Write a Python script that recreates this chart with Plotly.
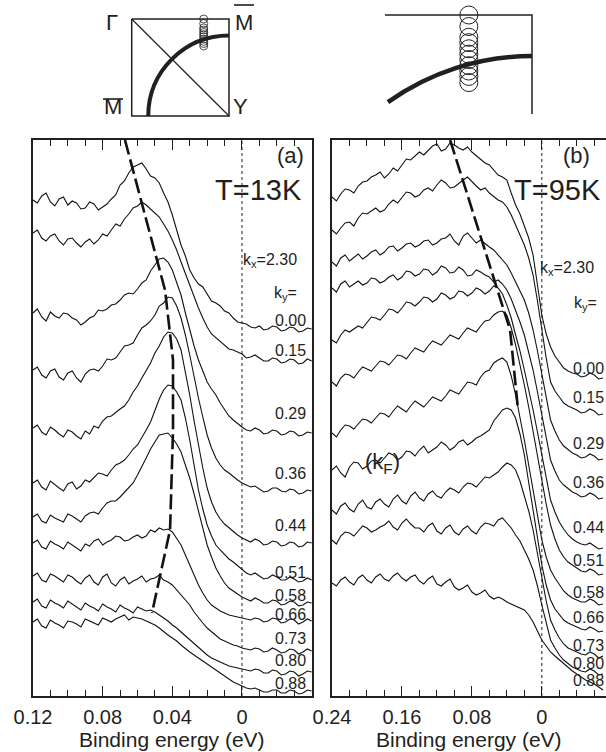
import math
import plotly.graph_objects as go

# ---------------- data ----------------
energy_a = [0.12, 0.1175, 0.115, 0.1125, 0.11, 0.1075, 0.105, 0.1025, 0.1, 0.0975, 0.095,
            0.0925, 0.09, 0.0875, 0.085, 0.0825, 0.08, 0.0775, 0.075, 0.0725, 0.07, 0.0675,
            0.065, 0.0625, 0.06, 0.0575, 0.055, 0.0525, 0.05, 0.0475, 0.045, 0.0425, 0.04,
            0.0375, 0.035, 0.0325, 0.03, 0.0275, 0.025, 0.0225, 0.02, 0.0175, 0.015, 0.0125,
            0.01, 0.0075, 0.005, 0.0025, 0.0, -0.0025, -0.005, -0.0075, -0.01, -0.0125,
            -0.015, -0.0175, -0.02, -0.0225, -0.025, -0.0275, -0.03, -0.0325, -0.035,
            -0.0375, -0.04]
energy_b = [0.24, 0.235, 0.23, 0.225, 0.22, 0.215, 0.21, 0.205, 0.2, 0.195, 0.19, 0.185,
            0.18, 0.175, 0.17, 0.165, 0.16, 0.155, 0.15, 0.145, 0.14, 0.135, 0.13, 0.125,
            0.12, 0.115, 0.11, 0.105, 0.1, 0.095, 0.09, 0.085, 0.08, 0.075, 0.07, 0.065,
            0.06, 0.055, 0.05, 0.045, 0.04, 0.035, 0.03, 0.025, 0.02, 0.015, 0.01, 0.005,
            0.0, -0.005, -0.01, -0.015, -0.02, -0.025, -0.03, -0.035, -0.04, -0.045, -0.05,
            -0.055, -0.06, -0.065, -0.07]

ky_values = [0.00, 0.15, 0.29, 0.36, 0.44, 0.51, 0.58, 0.66, 0.73, 0.80, 0.88]
ky_labels = ["0.00", "0.15", "0.29", "0.36", "0.44", "0.51", "0.58", "0.66", "0.73", "0.80", "0.88"]

# stacked EDC intensities (arb. units), T = 13 K
edc_a_000 = [496,493,500,503,494,490,497,499,491,495,493,487,488,494,492,486,489,492,497,501,
             511,515,523,529,531,533,527,520,518,513,503,494,481,465,451,440,426,418,412,409,
             402,395,393,390,385,383,378,374,373,372,369,368,370,366,367,370,369,365,366,369,
             368,364,365,368,367]
edc_a_015 = [463,466,458,455,460,462,455,451,457,458,453,449,454,457,452,456,462,460,466,472,
             470,477,482,488,490,494,491,487,484,479,472,465,456,446,434,422,411,399,388,378,
             369,362,358,355,351,347,346,344,342,338,339,341,338,335,335,338,337,333,334,337,
             336,332,333,337,335]
edc_a_029 = [383,387,379,375,384,380,378,383,382,378,376,371,374,378,380,386,385,387,391,392,
             396,401,403,402,407,413,416,425,431,437,438,434,426,414,401,383,366,350,336,324,
             314,307,301,293,286,280,276,272,269,266,265,268,266,262,263,266,265,261,262,265,
             264,260,261,264,263]
edc_a_036 = [326,329,321,318,325,327,319,316,323,325,318,314,322,326,327,325,330,337,336,338,
             344,350,351,353,361,368,371,375,381,390,393,399,398,390,378,361,341,319,298,279,
             261,248,238,231,226,223,219,216,213,211,209,210,207,204,205,208,208,205,204,207,
             206,202,203,206,205]
edc_a_044 = [268,271,264,261,269,266,262,259,266,264,260,257,265,262,270,268,275,279,280,284,
             287,290,296,304,310,318,326,333,343,350,359,364,363,357,346,325,301,275,251,228,
             208,194,184,177,172,168,165,161,158,156,154,157,155,151,152,155,154,150,151,154,
             153,149,150,154,153]
edc_a_051 = [213,216,209,206,215,211,208,205,212,214,207,210,216,214,219,223,222,220,226,231,
             233,236,241,247,251,258,266,274,286,297,306,311,310,304,296,278,256,230,206,187,
             171,160,151,146,141,137,134,130,126,123,121,123,120,117,118,121,119,116,116,119,
             117,114,115,118,116]
edc_a_058 = [179,182,175,173,181,178,176,174,182,180,177,174,180,183,184,182,188,193,195,195,
             199,204,208,213,221,229,238,247,254,261,262,263,258,252,244,232,218,202,184,167,
             151,139,128,120,113,108,105,102,99,97,95,98,96,93,93,96,95,91,92,95,
             94,90,91,94,93]
edc_a_066 = [153,156,149,147,155,152,150,147,154,151,148,145,152,150,155,157,151,154,156,160,
             159,155,156,159,161,158,160,166,164,168,166,167,164,158,151,141,131,121,111,103,
             96,91,88,85,83,81,80,79,78,77,76,78,77,74,75,78,77,73,74,77,
             76,72,74,77,75]
edc_a_073 = [120,123,116,114,122,120,117,114,121,119,115,112,118,121,114,111,119,122,113,110,
             116,119,112,115,117,120,114,117,118,121,116,114,111,106,101,96,91,84,78,73,
             68,64,60,57,55,53,51,50,48,47,46,48,47,44,45,48,46,43,44,47,
             46,42,44,47,45]
edc_a_080 = [94,97,90,88,96,93,91,88,95,92,89,86,93,90,88,85,92,89,87,84,
             91,88,86,83,89,87,85,86,84,81,78,75,71,68,64,60,56,52,48,44,
             41,38,36,34,32,30,29,28,27,26,25,27,26,23,23,26,25,21,22,25,
             24,20,22,25,24]
edc_a_088 = [74,77,70,68,76,73,71,68,75,74,72,69,77,75,73,71,78,76,74,77,
             79,81,76,79,78,77,75,73,71,68,64,61,58,55,51,47,44,41,38,35,
             32,29,26,23,20,17,14,12,10,8,7,8,6,4,4,6,6,3,3,6,
             5,2,3,6,5]

# stacked EDC intensities (arb. units), T = 95 K
edc_b_000 = [499,495,502,507,506,503,510,514,515,519,521,524,518,522,528,525,531,537,536,540,
             544,541,546,550,552,545,547,553,551,548,546,549,544,540,536,533,531,526,521,519,
             516,503,491,482,471,458,441,412,381,362,349,340,334,328,325,323,322,319,320,323,
             321,317,318]
edc_b_015 = [466,462,468,473,474,470,478,483,482,485,488,484,486,492,496,493,498,504,503,499,
             501,506,508,505,511,516,513,508,509,513,516,519,514,510,506,508,503,499,496,494,
             489,481,471,462,451,438,421,395,366,338,314,305,299,293,290,288,286,283,284,287,
             285,281,282]
edc_b_029 = [434,430,438,441,435,439,442,437,440,444,446,441,444,449,450,445,448,452,453,449,
             451,455,456,451,453,457,458,462,455,451,460,463,458,453,456,452,449,446,441,437,
             431,423,414,406,396,383,366,345,321,298,276,265,256,250,246,243,241,238,239,242,
             240,236,237]
edc_b_036 = [408,404,412,415,409,412,415,411,413,418,417,413,415,419,421,416,419,425,424,420,
             422,427,426,421,424,430,428,423,424,429,426,420,421,426,424,421,419,414,416,412,
             406,397,386,374,361,344,326,304,281,258,236,225,216,211,207,204,202,199,200,203,
             201,197,198]
edc_b_044 = [356,353,361,366,364,367,370,368,374,379,378,376,381,387,386,383,388,394,393,390,
             394,399,398,394,397,403,401,397,399,405,404,400,403,408,406,402,405,410,408,402,
             391,378,361,345,326,307,286,264,241,218,196,184,174,167,161,157,154,152,151,153,
             150,147,148]
edc_b_051 = [314,310,318,322,321,318,324,329,327,325,330,335,334,331,336,341,340,337,343,348,
             346,344,350,355,353,351,356,361,359,357,363,368,366,364,370,375,376,381,384,385,
             381,368,351,332,311,289,266,241,216,192,171,157,146,139,134,131,128,125,124,127,
             125,121,122]
edc_b_058 = [263,259,266,271,270,267,272,277,276,273,278,283,282,279,285,290,287,284,290,295,
             292,289,294,299,297,295,300,306,304,302,308,314,313,311,319,324,326,333,336,338,
             334,320,301,280,256,231,206,180,156,139,126,118,111,105,101,98,96,94,94,97,
             95,91,92]
edc_b_066 = [226,230,223,219,229,234,233,227,230,235,236,233,238,243,241,236,239,245,244,240,
             246,250,243,246,249,254,251,246,249,254,256,251,254,258,260,263,266,275,281,286,
             288,286,278,262,241,214,186,158,131,111,96,87,81,76,73,71,69,67,66,69,
             67,64,65]
edc_b_073 = [186,182,190,193,187,184,192,196,189,187,194,197,192,189,197,201,195,192,200,204,
             198,195,202,205,200,198,204,208,206,203,209,213,212,209,214,219,218,221,224,229,
             233,231,226,215,201,185,166,141,116,95,76,66,58,52,48,46,44,42,41,44,
             42,38,40]
edc_b_080 = [156,152,160,164,163,160,165,170,168,164,166,169,171,175,169,166,173,177,172,168,
             168,164,170,173,165,162,168,171,164,161,167,170,165,162,169,173,172,170,176,178,
             173,168,161,155,146,137,126,110,91,73,56,48,41,36,32,29,27,25,24,27,
             25,21,22]
edc_b_088 = [113,110,116,119,114,111,118,121,116,113,119,122,117,115,120,123,118,115,119,121,
             115,112,117,120,112,110,114,117,109,106,108,111,104,101,103,106,100,97,99,97,
             94,92,90,88,86,81,74,65,56,50,44,40,36,32,29,25,22,19,16,14,
             12,9,6]

# peak-position guide lines (energy, stacked intensity)
peak_a_energy = [0.0672, 0.0442, 0.0396, 0.0396, 0.0413, 0.0453, 0.0517]
peak_a_level = [556, 406, 336, 266, 166, 133, 83]
peak_b_energy = [0.1049, 0.0363, 0.0272]
peak_b_level = [556, 366, 286]

# Brillouin-zone sketch (unit square: Gamma top-left, Y bottom-right)
bz_x = [0, 1, 1, 0, 0]
bz_y = [1, 1, 0, 0, 1]
diag_x = [0, 1]
diag_y = [1, 0]
cut_kx = 0.74          # position of the measured cut
ky_to_bz = 0.316       # ky -> sketch units

curves_a = [edc_a_000, edc_a_015, edc_a_029, edc_a_036, edc_a_044, edc_a_051,
            edc_a_058, edc_a_066, edc_a_073, edc_a_080, edc_a_088]
curves_b = [edc_b_000, edc_b_015, edc_b_029, edc_b_036, edc_b_044, edc_b_051,
            edc_b_058, edc_b_066, edc_b_073, edc_b_080, edc_b_088]

# label placement (layout)
label_y_a = [376, 346, 283, 223, 171, 124, 101, 82, 58, 36, 13]
label_y_b = [328, 299, 253, 214, 169, 136, 104, 79, 51, 33, 16]

INK = "#231f20"
FONT = "Liberation Sans, Arial, sans-serif"

W, H = 606, 752
def px_x(p):
    return p / W
def px_y(p):
    return (H - p) / H

fig = go.Figure()

for vals in curves_a:
    fig.add_trace(go.Scatter(x=energy_a, y=vals, mode="lines", xaxis="x", yaxis="y",
                             line=dict(color="#111111", width=1.1), hoverinfo="skip"))
for vals in curves_b:
    fig.add_trace(go.Scatter(x=energy_b, y=vals, mode="lines", xaxis="x2", yaxis="y2",
                             line=dict(color="#111111", width=1.1), hoverinfo="skip"))

fig.add_trace(go.Scatter(x=peak_a_energy, y=peak_a_level, mode="lines", xaxis="x", yaxis="y",
                         line=dict(color="#111111", width=2.6, dash="15px,5px"), hoverinfo="skip"))
fig.add_trace(go.Scatter(x=peak_b_energy, y=peak_b_level, mode="lines", xaxis="x2", yaxis="y2",
                         line=dict(color="#111111", width=2.6, dash="15px,5px"), hoverinfo="skip"))

# Brillouin-zone sketches
for xa, ya in (("x3", "y3"), ("x4", "y4")):
    fig.add_trace(go.Scatter(x=bz_x, y=bz_y, mode="lines", xaxis=xa, yaxis=ya,
                             line=dict(color=INK, width=1.5), hoverinfo="skip"))
fig.add_trace(go.Scatter(x=diag_x, y=diag_y, mode="lines", xaxis="x3", yaxis="y3",
                         line=dict(color=INK, width=1.2), hoverinfo="skip"))
cut_y = [1 - ky_to_bz * k for k in ky_values]
fig.add_trace(go.Scatter(x=[cut_kx] * len(ky_values), y=cut_y, mode="markers", xaxis="x3", yaxis="y3",
                         marker=dict(symbol="circle-open", size=8, color=INK, line=dict(width=0.8)),
                         cliponaxis=False, hoverinfo="skip"))
fig.add_trace(go.Scatter(x=[cut_kx] * len(ky_values), y=cut_y, mode="markers", xaxis="x4", yaxis="y4",
                         marker=dict(symbol="circle-open", size=18, color=INK, line=dict(width=1)),
                         cliponaxis=False, hoverinfo="skip"))

# Fermi-surface arcs (sketch)
r1, kb = 0.83, 0.5523
path1 = (f"M {1-r1},0 C {1-r1},{kb*r1} {1-kb*r1},{r1} 1,{r1}")
cx, cy, R = 1.0, -0.191, 1.022
xs = 0.407
th = math.asin((cx - xs) / R)
ys = cy + R * math.cos(th)
hk = 4 / 3 * math.tan(th / 4) * R
path2 = (f"M {xs},{ys} C {xs + hk*math.cos(th)},{ys + hk*math.sin(th)} "
         f"{cx - hk},{cy + R} {cx},{cy + R}")

shapes = [
    dict(type="path", path=path1, xref="x3", yref="y3", line=dict(color=INK, width=4)),
    dict(type="path", path=path2, xref="x4", yref="y4", line=dict(color=INK, width=4.5)),
    # Fermi level markers
    dict(type="line", x0=0, x1=0, xref="x", y0=0, y1=1, yref="y domain",
         line=dict(color=INK, width=1, dash="dot")),
    dict(type="line", x0=0, x1=0, xref="x2", y0=0, y1=1, yref="y2 domain",
         line=dict(color=INK, width=1, dash="dot")),
    # overbars on M
    dict(type="line", xref="paper", yref="paper", x0=px_x(234), x1=px_x(254), y0=px_y(5), y1=px_y(5),
         line=dict(color=INK, width=1.6)),
    dict(type="line", xref="paper", yref="paper", x0=px_x(103), x1=px_x(123), y0=px_y(99), y1=px_y(99),
         line=dict(color=INK, width=1.6)),
]

ann = []
def text(x, y, s, size, xref="x", yref="y", xanchor="center"):
    ann.append(dict(x=x, y=y, xref=xref, yref=yref, text=s, showarrow=False,
                    font=dict(size=size, color=INK, family=FONT), xanchor=xanchor, yanchor="middle"))

text(-0.0276, 541, "(a)", 22)
text(-0.0092, 506, "T=13K", 29)
text(-0.0161, 436, "k<sub>x</sub>=2.30", 16)
text(-0.0247, 403, "k<sub>y</sub>=", 16)
for lab, yy in zip(ky_labels, label_y_a):
    text(-0.0276, yy, lab, 16)

text(-0.0402, 541, "(b)", 22, "x2", "y2")
text(-0.0175, 506, "T=95K", 29, "x2", "y2")
text(-0.0288, 428, "k<sub>x</sub>=2.30", 16, "x2", "y2")
text(-0.0495, 393, "k<sub>y</sub>=", 16, "x2", "y2")
for lab, yy in zip(ky_labels, label_y_b):
    text(-0.0529, yy, lab, 16, "x2", "y2")
text(0.1826, 233, "(k<sub>F</sub>)", 22, "x2", "y2")

# BZ labels (paper coordinates)
text(px_x(112), px_y(22), "Γ", 22, "paper", "paper")
text(px_x(244), px_y(22), "M", 22, "paper", "paper")
text(px_x(113), px_y(107), "M", 22, "paper", "paper")
text(px_x(240), px_y(107), "Y", 22, "paper", "paper")

text(px_x((33 + 312) / 2), px_y(739), "Binding energy (eV)", 21, "paper", "paper")
text(px_x((332 + 606) / 2), px_y(739), "Binding energy (eV)", 21, "paper", "paper")

ydom = [px_y(696), px_y(140)]
common_x = dict(showline=True, mirror="ticks", linecolor=INK, linewidth=1.5, ticks="inside",
                ticklen=10, tickwidth=1.2, tickcolor=INK, showgrid=False, zeroline=False,
                automargin=False,
                tickfont=dict(size=20, color=INK, family=FONT), ticklabelstandoff=2)
common_y = dict(showline=True, mirror=True, linecolor=INK, linewidth=1.5, ticks="",
                showticklabels=False, showgrid=False, zeroline=False, range=[0, 556], domain=ydom,
                automargin=False)
hidden = dict(visible=False, showgrid=False, zeroline=False, automargin=False)

fig.update_layout(
    width=W, height=H, margin=dict(l=0, r=0, t=0, b=0, autoexpand=False),
    paper_bgcolor="white", plot_bgcolor="white", showlegend=False,
    font=dict(family=FONT, color=INK),
    xaxis=dict(domain=[px_x(33), px_x(312)], range=[0.12, -0.0402], anchor="y",
               tickmode="array", tickvals=[0.12, 0.08, 0.04, 0], ticktext=["0.12", "0.08", "0.04", "0"],
               minor=dict(tickmode="linear", tick0=0, dtick=0.01, ticklen=6, tickwidth=1, ticks="inside", tickcolor=INK),
               **common_x),
    yaxis=dict(anchor="x", **common_y),
    xaxis2=dict(domain=[px_x(332), 1.0], range=[0.24, -0.0734], anchor="y2",
                tickmode="array", tickvals=[0.24, 0.16, 0.08, 0], ticktext=["0.24", "0.16", "0.08", "0"],
                minor=dict(tickmode="linear", tick0=0, dtick=0.02, ticklen=6, tickwidth=1, ticks="inside", tickcolor=INK),
                **common_x),
    yaxis2=dict(anchor="x2", **common_y),
    xaxis3=dict(domain=[px_x(125), px_x(236)], range=[-0.069, 1.072], anchor="y3", **hidden),
    yaxis3=dict(domain=[px_y(123), px_y(12)], range=[-0.072, 1.072], anchor="x3", **hidden),
    xaxis4=dict(domain=[px_x(385), px_x(540)], range=[0.395, 1.0329], anchor="y4", **hidden),
    yaxis4=dict(domain=[px_y(114), px_y(8)], range=[0.5926, 1.0288], anchor="x4", **hidden),
    shapes=shapes, annotations=ann,
)

fig.write_html("out.html")
